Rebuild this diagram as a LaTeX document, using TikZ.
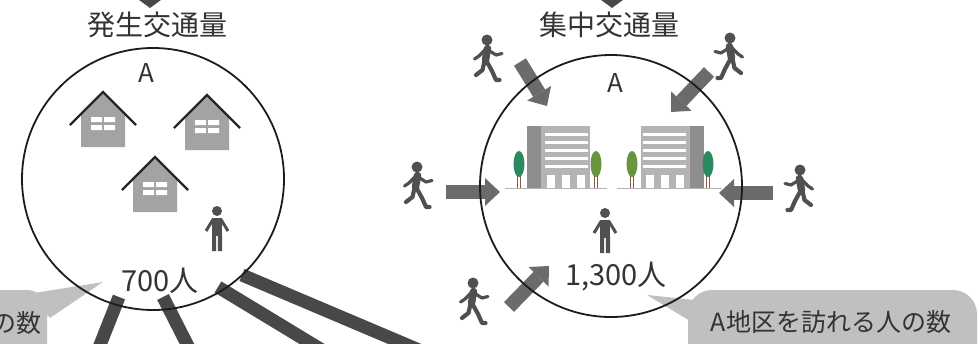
\documentclass[tikz,border=0pt]{standalone}
\usepackage{fontspec}
\setmainfont{Noto Sans CJK JP}
\usetikzlibrary{arrows.meta}
\definecolor{ink}{HTML}{333333}
\definecolor{zonecol}{HTML}{1C1C1C}
\definecolor{housegray}{HTML}{A3A3A3}
\definecolor{walkgray}{HTML}{505050}
\definecolor{arrowgray}{HTML}{6B6B6B}
\definecolor{bargray}{HTML}{484848}
\definecolor{bubblegray}{HTML}{C0C0C0}
\definecolor{sidegray}{HTML}{8E8E8E}
\definecolor{frontgray}{HTML}{B4B4B4}
\definecolor{leafteal}{HTML}{2B8A5F}
\definecolor{leafolive}{HTML}{6A9440}
\definecolor{trunkcol}{HTML}{8B5A3C}
\begin{document}
\begin{tikzpicture}[x=1pt,y=-1pt,
  zone/.style={circle,draw=zonecol,line width=1.8pt,minimum size=262pt,inner sep=0pt},
  title/.style={text=ink,inner sep=0pt,font=\fontsize{28}{28}\selectfont},
  count/.style={text=ink,inner sep=0pt,font=\fontsize{29}{29}\selectfont},
  letter/.style={text=ink,inner sep=0pt,font=\fontsize{26}{26}\selectfont},
  tag/.style={text=ink,inner sep=0pt,font=\fontsize{25}{25}\selectfont},
  bigarrow/.style={draw=arrowgray,line width=14pt,-{Triangle[length=15pt,width=28pt,line width=0pt]}},
  downtip/.style={draw=bargray,line width=16pt,-{Triangle[length=14pt,width=38pt,line width=0pt]}},
  outbar/.style={draw=bargray,line width=13pt},
  house/.pic={
    \fill[housegray] (-22,22) -- (0,0) -- (22,22) -- (22,55) -- (-22,55) -- cycle;
    \fill[white] (-12,25) rectangle (-1,30) (1,25) rectangle (12,30)
                 (-12,33) rectangle (-1,38) (1,33) rectangle (12,38);
    \draw[black!85,line width=2.4pt] (-33,33) -- (0,0) -- (33,33);
  },
  stander/.pic={
    \fill[walkgray] (0,0) circle (5);
    \fill[walkgray] (-5,7) rectangle (5,25);
    \draw[walkgray,line width=3pt] (-4,8.5) -- (-11,20) (4,8.5) -- (11,20);
    \fill[walkgray] (-5,24) rectangle (-0.8,40) (0.8,24) rectangle (5,40);
  },
  walker/.pic={
    \fill[walkgray] (0,0) circle (5.5);
    \draw[walkgray,line width=7.5pt,line cap=round] (0.5,8.5) -- (-1.5,20);
    \draw[walkgray,line width=3.2pt,line cap=round,line join=round]
      (1,10) -- (9,15) -- (15,13.5) (-2,10) -- (-8,16) -- (-12.5,19);
    \draw[walkgray,line width=4.2pt,line cap=round,line join=round]
      (-0.5,21) -- (5,31) -- (9,40) -- (12.5,40) (-2.5,21) -- (-4.5,30) -- (-11,35);
  },
  office/.pic={
    \fill[sidegray] (-14,-62) rectangle (0,0);
    \fill[frontgray] (0,-62) rectangle (49,0);
    \foreach \y in {-55,-47,-39,-31,-23} \fill[white] (4,\y) rectangle (47,\y+3);
    \foreach \x in {6,21,36} \fill[white] (\x,-13) rectangle (\x+8,0);
  },
  tree/.pic={
    \draw[trunkcol,line width=0.8pt] (-1.5,0) -- (-1.5,-16) (1.5,0) -- (1.5,-13);
    \path[pic actions] (0,-24) ellipse (5.5 and 13);
  }]
\useasboundingbox (0,0) rectangle (978,343);
\clip (0,0) rectangle (978,343);

\fill[bubblegray,rounded corners=20pt] (-60,290) rectangle (47,380);
\fill[bubblegray] (28,294) -- (103,282) -- (50,318) -- cycle;
\node[tag,anchor=east] (outtag) at (42,323) {の数};
\fill[bubblegray,rounded corners=24pt] (688,290) rectangle (977,380);
\fill[bubblegray] (695,300) -- (647,295) -- (705,330) -- cycle;
\node[tag] (intag) at (831,322) {A地区を訪れる人の数};

\coordinate (b1a) at (119,297); \coordinate (b1b) at (98,350);
\coordinate (b2a) at (163,297); \coordinate (b2b) at (190,350);
\coordinate (b3a) at (218,287); \coordinate (b3b) at (322,350);
\coordinate (b4a) at (242,275); \coordinate (b4b) at (419,350);
\foreach \b in {1,...,4} \draw[outbar] (b\b a) -- (b\b b);

\draw[downtip] (150,-40) coordinate (gtop) -- (150,8);
\draw[downtip] (612,-40) coordinate (ctop) -- (612,8);

\pic at (487,40) {walker};
\pic[xscale=-1] at (730,38) {walker};
\pic at (417,167) {walker};
\pic[xscale=-1] at (800,170) {walker};
\pic at (473,283) {walker};
\coordinate (w1) at (520,62);  \coordinate (e1) at (547,106);
\coordinate (w2) at (709,72);  \coordinate (e2) at (671,112);
\coordinate (w3) at (446,192); \coordinate (e3) at (500,192);
\coordinate (w4) at (773,193); \coordinate (e4) at (719,193);
\coordinate (w5) at (509,307); \coordinate (e5) at (549,266);
\foreach \a in {1,...,5} \draw[bigarrow] (w\a) -- (e\a);

\node[zone] (gen) at (153,179) {};
\node[zone] (con) at (611,186) {};

\node[title] (gentitle) at (157,25) {発生交通量};
\node[title] (contitle) at (609,25) {集中交通量};
\node[letter] (genA) at (146,73) {A};
\node[letter] (conA) at (615,83) {A};

\pic at (103,92) {house};
\pic at (207,95) {house};
\pic at (155,157) {house};
\pic at (217,211) {stander};
\node[count] (gencount) at (160,281) {700人};

\draw[gray!60,line width=0.6pt] (505,188.5) -- (607,188.5) (617,188.5) -- (722,188.5);
\pic at (541,188) {office};
\pic[xscale=-1] at (690,188) {office};
\pic[fill=leafteal] at (519,188) {tree};
\pic[fill=leafolive] at (596,188) {tree};
\pic[fill=leafolive] at (632,188) {tree};
\pic[fill=leafteal] at (708,188) {tree};
\pic at (605,213) {stander};
\node[count] (concount) at (616,277) {1,300人};
\end{tikzpicture}
\end{document}
